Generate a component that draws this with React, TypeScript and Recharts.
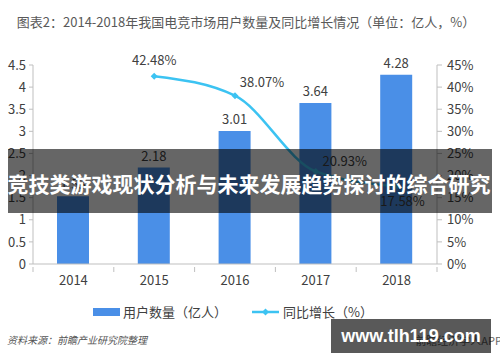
import { Bar, ComposedChart, LabelList, Line, XAxis, YAxis } from "recharts";

const YEARS = ["2014", "2015", "2016", "2017", "2018"];
const USERS = [1.53, 2.18, 3.01, 3.64, 4.28];
const GROWTH: (number | null)[] = [null, 42.48, 38.07, 20.93, 17.58];
const LEFT_TICKS = [0, 0.5, 1, 1.5, 2, 2.5, 3, 3.5, 4, 4.5];
const RIGHT_TICKS = [0, 5, 10, 15, 20, 25, 30, 35, 40, 45];

const data = YEARS.map((year, i) => ({ year, users: USERS[i], growth: GROWTH[i] }));

// label offsets for the growth line (dx, dy from the point)
const LINE_LABEL_OFFSETS = [
  [0, 0],
  [0, -17],
  [27, -14],
  [29, -11],
  [6, 14],
];

const FONT = '"Noto Sans CJK SC", "Noto Sans", sans-serif';
const BAR_COLOR = "#4A8FE7";
const LINE_COLOR = "#3CC3F2";
const AXIS_COLOR = "#BFBFBF";
const TEXT_COLOR = "#404040";

const PLOT_LEFT = 33;
const PLOT_RIGHT = 437;
const HALF_BAND = (PLOT_RIGHT - PLOT_LEFT) / YEARS.length / 2;

const Diamond = (props: any) => {
  const { cx, cy, value } = props;
  if (value == null || cx == null || cy == null) return null;
  const r = 3.5;
  return (
    <polygon
      points={`${cx},${cy - r} ${cx + r},${cy} ${cx},${cy + r} ${cx - r},${cy}`}
      fill={LINE_COLOR}
    />
  );
};

const GrowthLabel = (props: any) => {
  const { x, y, value, index } = props;
  if (value == null) return null;
  const [dx, dy] = LINE_LABEL_OFFSETS[index];
  return (
    <text
      x={x + dx}
      y={y + dy}
      textAnchor="middle"
      dominantBaseline="central"
      fontSize={13}
      fill={TEXT_COLOR}
      fontFamily={FONT}
    >
      {`${value.toFixed(2)}%`}
    </text>
  );
};

const YearTick = (props: any) => {
  const { x, y, payload, index } = props;
  return (
    <g>
      <line x1={x - HALF_BAND} y1={y - 5} x2={x - HALF_BAND} y2={y} stroke={AXIS_COLOR} />
      {index === YEARS.length - 1 && (
        <line x1={x + HALF_BAND} y1={y - 5} x2={x + HALF_BAND} y2={y} stroke={AXIS_COLOR} />
      )}
      <text x={x} y={y + 13} textAnchor="middle" fontSize={13} fill={TEXT_COLOR} fontFamily={FONT}>
        {payload.value}
      </text>
    </g>
  );
};

export default function App() {
  return (
    <div
      style={{
        position: "fixed",
        left: 0,
        top: 0,
        width: 500,
        height: 362,
        background: "#fff",
        fontFamily: FONT,
        overflow: "hidden",
      }}
    >
      <div
        style={{
          position: "absolute",
          top: 12,
          left: 0,
          width: 492,
          textAlign: "center",
          fontSize: 13,
          color: "#595959",
          lineHeight: "20px",
        }}
      >
        图表2：2014-2018年我国电竞市场用户数量及同比增长情况（单位：亿人，%）
      </div>

      <ComposedChart
        width={500}
        height={362}
        data={data}
        margin={{ top: 65, right: 0, bottom: 68, left: 0 }}
        style={{ position: "absolute", left: 0, top: 0 }}
      >
        <XAxis
          dataKey="year"
          height={30}
          stroke={AXIS_COLOR}
          tickLine={false}
          tick={<YearTick />}
        />
        <YAxis
          yAxisId="left"
          width={33}
          domain={[0, 4.5]}
          ticks={LEFT_TICKS}
          stroke={AXIS_COLOR}
          tickSize={4}
          tickMargin={3}
          tick={{ fontSize: 13, fill: TEXT_COLOR, fontFamily: FONT }}
          interval={0}
        />
        <YAxis
          yAxisId="right"
          orientation="right"
          width={63}
          domain={[0, 45]}
          ticks={RIGHT_TICKS}
          tickFormatter={(v) => `${v}%`}
          stroke={AXIS_COLOR}
          tickSize={5}
          tickMargin={5}
          tick={{ fontSize: 13, fill: TEXT_COLOR, fontFamily: FONT }}
          interval={0}
        />
        <Bar yAxisId="left" dataKey="users" fill={BAR_COLOR} barSize={32} isAnimationActive={false}>
          <LabelList
            dataKey="users"
            position="top"
            offset={7}
            fontSize={13}
            fill={TEXT_COLOR}
            fontFamily={FONT}
            formatter={(v: any) => Number(v).toFixed(2)}
          />
        </Bar>
        <Line
          yAxisId="right"
          dataKey="growth"
          type="monotone"
          stroke={LINE_COLOR}
          strokeWidth={2.5}
          dot={<Diamond />}
          activeDot={false}
          connectNulls
          isAnimationActive={false}
        >
          <LabelList dataKey="growth" content={<GrowthLabel />} />
        </Line>
      </ComposedChart>

      {/* legend */}
      <div
        style={{
          position: "absolute",
          top: 303,
          left: 0,
          width: 500,
          height: 18,
          fontSize: 13,
          color: "#404040",
        }}
      >
        <div style={{ position: "absolute", left: 93, top: 5, width: 27, height: 8, background: BAR_COLOR }} />
        <div style={{ position: "absolute", left: 123, top: 0, lineHeight: "18px" }}>用户数量（亿人）</div>
        <svg style={{ position: "absolute", left: 252, top: 0 }} width={28} height={18}>
          <line x1={0} y1={9} x2={27} y2={9} stroke={LINE_COLOR} strokeWidth={2.5} />
          <polygon points="13.5,5.5 17,9 13.5,12.5 10,9" fill={LINE_COLOR} />
        </svg>
        <div style={{ position: "absolute", left: 283, top: 0, lineHeight: "18px" }}>同比增长（%）</div>
      </div>

      {/* source */}
      <div
        style={{
          position: "absolute",
          left: 7,
          top: 333,
          fontSize: 10,
          fontStyle: "italic",
          color: "#555",
          lineHeight: "14px",
        }}
      >
        资料来源：前瞻产业研究院整理
      </div>
      <div
        style={{
          position: "absolute",
          right: -2,
          top: 333,
          fontSize: 11,
          color: "#666",
          lineHeight: "14px",
        }}
      >
        前瞻经济学人APP
      </div>

      {/* overlay banner */}
      <div
        style={{
          position: "absolute",
          left: 8,
          top: 149,
          width: 484,
          height: 64,
          background: "rgba(0,0,0,0.6)",
        }}
      />
      <div
        style={{
          position: "absolute",
          left: 0,
          top: 169,
          width: 498,
          textAlign: "center",
          color: "#fff",
          fontSize: 21,
          fontWeight: 700,
          lineHeight: "28px",
          whiteSpace: "nowrap",
        }}
      >
        竞技类游戏现状分析与未来发展趋势探讨的综合研究
      </div>

      {/* site box */}
      <div
        style={{
          position: "absolute",
          left: 331,
          top: 319,
          width: 160,
          height: 34,
          background: "rgba(0,0,0,0.65)",
          color: "#fff",
          fontFamily: '"Liberation Sans", Arial, sans-serif',
          fontWeight: 700,
          fontSize: 18,
          lineHeight: "34px",
          textAlign: "center",
        }}
      >
        www.tlh119.com
      </div>
    </div>
  );
}
